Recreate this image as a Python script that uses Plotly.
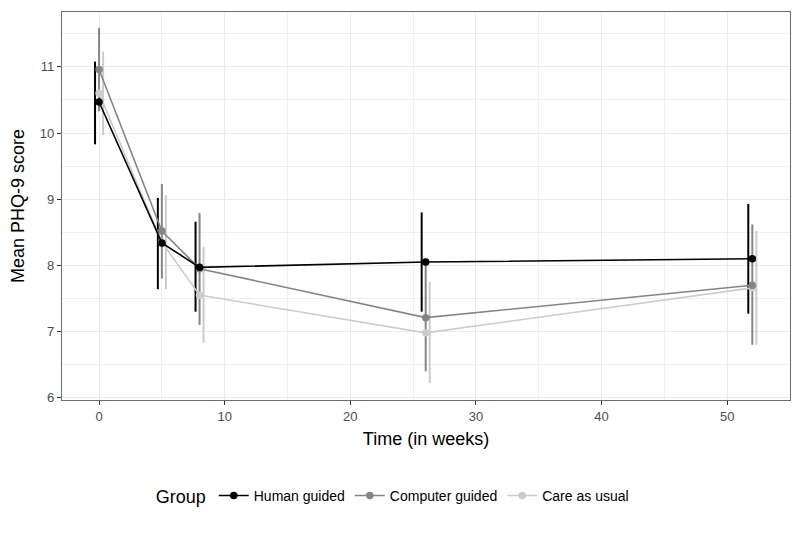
import plotly.graph_objects as go

weeks = [0, 5, 8, 26, 52]
groups = ["Human guided", "Computer guided", "Care as usual"]
colors = ["#000000", "#858585", "#cccccc"]
means = {
    "Human guided":    [10.47, 8.34, 7.97, 8.05, 8.10],
    "Computer guided": [10.96, 8.52, 7.95, 7.21, 7.70],
    "Care as usual":   [10.60, 8.35, 7.55, 6.98, 7.66],
}
lower = {
    "Human guided":    [9.83, 7.64, 7.30, 7.30, 7.27],
    "Computer guided": [10.33, 7.80, 7.10, 6.40, 6.80],
    "Care as usual":   [9.97, 7.64, 6.83, 6.22, 6.80],
}
upper = {
    "Human guided":    [11.08, 9.02, 8.66, 8.80, 8.93],
    "Computer guided": [11.59, 9.23, 8.79, 8.02, 8.62],
    "Care as usual":   [11.23, 9.06, 8.28, 7.75, 8.52],
}
dodge = [-0.32, 0.0, 0.32]

fig = go.Figure()
# draw in reverse so Human guided is on top
for gi in [2, 1, 0]:
    g = groups[gi]
    c = colors[gi]
    xs, ys = [], []
    for t, lo, hi in zip(weeks, lower[g], upper[g]):
        xs += [t + dodge[gi], t + dodge[gi], None]
        ys += [lo, hi, None]
    fig.add_trace(go.Scatter(x=xs, y=ys, mode="lines", line=dict(color=c, width=2),
                             showlegend=False, hoverinfo="skip"))
for gi in [2, 1, 0]:
    g = groups[gi]
    c = colors[gi]
    fig.add_trace(go.Scatter(x=weeks, y=means[g], mode="lines+markers", name=g,
                             line=dict(color=c, width=1.6),
                             marker=dict(color=c, size=7.5),
                             legendrank=gi + 1))

fig.update_layout(
    width=800, height=533,
    paper_bgcolor="white", plot_bgcolor="white",
    margin=dict(l=54, r=18, t=4, b=141, autoexpand=False),
    font=dict(family="Liberation Sans, Arial, sans-serif", color="#000000"),
    legend=dict(orientation="h", x=0.126, xanchor="left", y=-0.206, yanchor="top",
                title=dict(text="Group", font=dict(size=18), side="left"),
                font=dict(size=14), traceorder="normal", itemwidth=30),
    xaxis=dict(range=[-2.95, 55.0], tickvals=[0, 10, 20, 30, 40, 50],
               showgrid=True, gridcolor="#ebebeb", gridwidth=1.3,
               minor=dict(tickvals=[5, 15, 25, 35, 45, 55], showgrid=True, gridcolor="#efefef", gridwidth=0.8),
               ticks="outside", ticklen=4, tickcolor="#333333",
               tickfont=dict(size=13, color="#4d4d4d"), automargin=False,
               title=dict(text="Time (in weeks)", font=dict(size=18), standoff=9),
               showline=True, linecolor="#6e6e6e", linewidth=1.2, mirror=True, zeroline=False),
    yaxis=dict(range=[5.965, 11.83], tickvals=[6, 7, 8, 9, 10, 11],
               showgrid=True, gridcolor="#ebebeb", gridwidth=1.3,
               minor=dict(tickvals=[6.5, 7.5, 8.5, 9.5, 10.5, 11.5], showgrid=True, gridcolor="#efefef", gridwidth=0.8),
               ticks="outside", ticklen=4, tickcolor="#333333",
               tickfont=dict(size=13, color="#4d4d4d"), automargin=False,
               title=dict(text="Mean PHQ-9 score", font=dict(size=18), standoff=10),
               showline=True, linecolor="#6e6e6e", linewidth=1.2, mirror=True, zeroline=False),
)

fig.write_html("out.html")
